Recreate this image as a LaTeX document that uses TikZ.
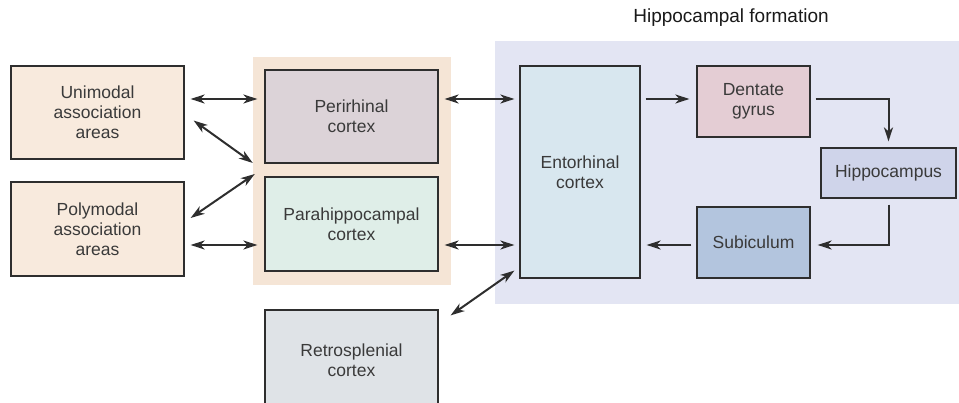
\documentclass[tikz,border=0pt]{standalone}
\usepackage{fontspec}
\setmainfont{Liberation Sans}
\usetikzlibrary{arrows.meta,calc}
\definecolor{linec}{HTML}{2E2E2E}
\definecolor{txtc}{HTML}{3A3A3A}
\definecolor{beigebg}{HTML}{F5E5D6}
\definecolor{beigebox}{HTML}{F8EADD}
\definecolor{hippbg}{HTML}{E3E5F3}
\definecolor{perifill}{HTML}{DCD3D8}
\definecolor{parafill}{HTML}{DFEEE8}
\definecolor{entofill}{HTML}{D8E7EF}
\definecolor{dentfill}{HTML}{E4CDD4}
\definecolor{hippfill}{HTML}{CFD4EA}
\definecolor{subifill}{HTML}{B3C5DE}
\definecolor{retrofill}{HTML}{DFE3E7}
\begin{document}
\begin{tikzpicture}[x=1pt,y=1pt,>={Stealth[length=14pt,width=9pt,inset=4pt]},
  area/.style={draw=linec,line width=1.2pt,align=center,text=txtc,inner sep=0pt,
    font=\fontsize{17.5}{20}\selectfont},
  panel/.style={inner sep=0pt},
  link/.style={line width=2pt,draw=linec}]
\useasboundingbox (0,0) rectangle (959,403);
\clip (0,0) rectangle (959,403);
% background panels
\node[panel,fill=beigebg,minimum width=198pt,minimum height=228pt] (pbg) at (352,232) {};
\node[panel,fill=hippbg,minimum width=464pt,minimum height=263pt] (hbg) at (727,230.5) {};
\node[font=\fontsize{19}{22}\selectfont,text=black!90] (title) at (731,385) {Hippocampal formation};
% cortical areas
\node[area,fill=beigebox,minimum width=173pt,minimum height=93pt] (uni) at (97.5,290.5) {Unimodal\\association\\areas};
\node[area,fill=beigebox,minimum width=173pt,minimum height=94pt] (poly) at (97.5,174) {Polymodal\\association\\areas};
\node[area,fill=perifill,minimum width=173pt,minimum height=93pt] (peri) at (351.5,286.5) {Perirhinal\\cortex};
\node[area,fill=parafill,minimum width=173pt,minimum height=94pt] (para) at (351.5,179) {Parahippocampal\\cortex};
\node[area,fill=retrofill,minimum width=173pt,minimum height=100pt] (retro) at (351.5,43) {Retrosplenial\\cortex};
% hippocampal formation
\node[area,fill=entofill,minimum width=120pt,minimum height=212pt] (ento) at (580,231) {Entorhinal\\cortex};
\node[area,fill=dentfill,minimum width=113pt,minimum height=71pt] (dent) at (753.5,301.5) {Dentate\\gyrus};
\node[area,fill=hippfill,minimum width=135pt,minimum height=50pt] (hipp) at (888.5,230) {Hippocampus};
\node[area,fill=subifill,minimum width=113pt,minimum height=71pt] (subi) at (753.5,160.5) {Subiculum};
\coordinate (upper) at (0,304);
\coordinate (lower) at (0,158);
% connections
\draw[link,<->,shorten <=6pt,shorten >=7pt] (uni.east |- upper) -- (peri.west |- upper);
\draw[link,<->,shorten <=6pt,shorten >=7pt] (poly.east |- lower) -- (para.west |- lower);
\draw[link,<->] ($(uni.east)+(9,-8)$) -- ($(pbg.west)+(0,8)$);
\draw[link,<->] ($(poly.east)+(6,11)$) -- ($(pbg.west)+(2,-3)$);
\draw[link,<->,shorten <=6pt,shorten >=5pt] (peri.east |- upper) -- (ento.west |- upper);
\draw[link,<->,shorten <=6pt,shorten >=5pt] (para.east |- lower) -- (ento.west |- lower);
\draw[link,<->] ($(retro.north east)+(12,-6)$) -- ($(ento.south west)+(-5,8)$);
\draw[link,->,shorten <=5pt,shorten >=7pt] (ento.east |- upper) -- (dent.west |- upper);
\draw[link,->,shorten <=5pt,shorten >=6pt] (dent.east |- upper) -| (hipp.north);
\draw[link,->,shorten <=6pt,shorten >=7pt] (hipp.south) |- (subi.east |- lower);
\draw[link,->,shorten <=5pt,shorten >=6pt] (subi.west |- lower) -- (ento.east |- lower);
\end{tikzpicture}
\end{document}
